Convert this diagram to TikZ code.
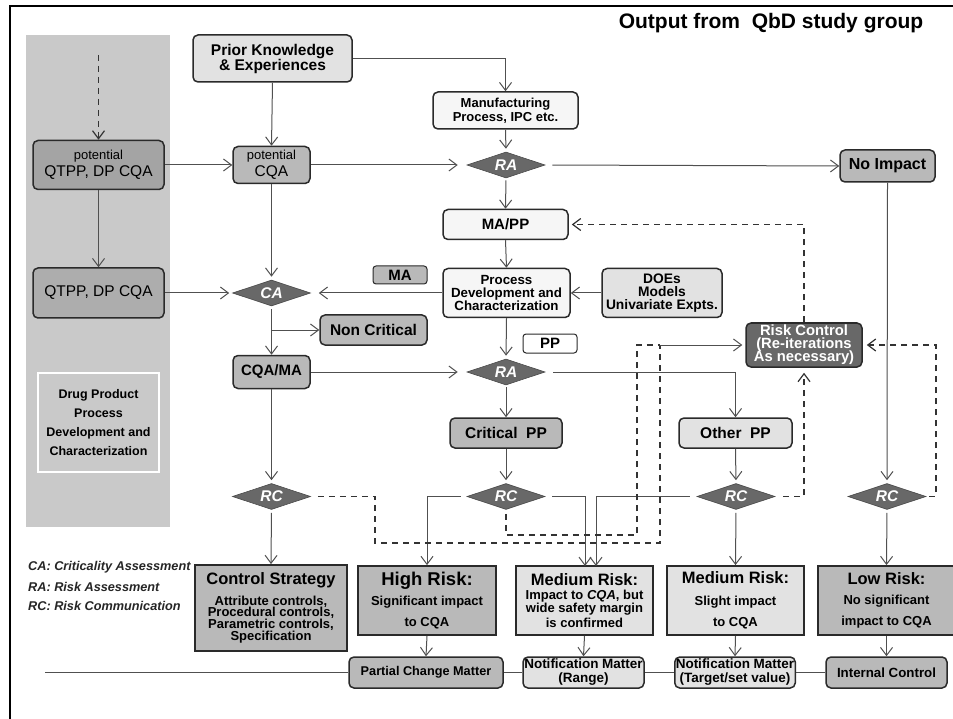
\documentclass[tikz,border=0pt]{standalone}
\usepackage{fontspec}
\setmainfont{Liberation Sans}
\usetikzlibrary{shapes.geometric,arrows.meta}
\definecolor{gdark}{HTML}{686868}
\definecolor{gmid}{HTML}{B9B9B9}
\definecolor{gmidd}{HTML}{A4A4A4}
\definecolor{glight}{HTML}{E2E2E2}
\definecolor{gwhite}{HTML}{F6F6F6}
\definecolor{gpanel}{HTML}{C9C9C9}
\definecolor{gline}{HTML}{505050}
\definecolor{gborder}{HTML}{2A2A2A}
\newcommand\fz[2]{\fontsize{#1}{#2}\selectfont}
\newcommand\tightls{\lineskiplimit=-10pt\relax}
\begin{document}
\begin{tikzpicture}[x=1pt,y=-1pt,
  box/.style={draw=gborder, line width=1.5pt, rounded corners=5pt, align=center, inner sep=1pt},
  midbox/.style={box, fill=gmid},
  lightbox/.style={box, fill=glight},
  whitebox/.style={box, fill=gwhite},
  sqbox/.style={box, rounded corners=0pt, line width=1.8pt},
  dia/.style={diamond, aspect=3, fill=gdark, draw=gdark!70!black, line width=0.6pt, minimum width=78pt, minimum height=26pt, inner sep=0pt, text=white, font=\bfseries\itshape\fz{15.5}{15}},
  conn/.style={draw=gline, line width=1pt, -{Straight Barb[length=8pt,width=12pt]}},
  plain/.style={draw=gline, line width=1pt},
  dsh/.style={draw=black!80, line width=1.2pt, dash pattern=on 6pt off 5pt},
  dsharr/.style={dsh, -{Straight Barb[length=8pt,width=12pt]}},
  legend/.style={anchor=west, inner sep=0pt, text=black!85, font=\bfseries\itshape\fz{12.7}{13}},
]
\useasboundingbox (0,0) rectangle (953,719);
\fill[white] (0,0) rectangle (953,719);
\draw[line width=2pt, black] (953,6) -- (10,6) -- (10,719);

% title
\node[font=\bfseries\fz{21}{21}] (title) at (771,23) {Output from\ \ QbD study group};

% left panel
\node[fill=gpanel, minimum width=144pt, minimum height=492pt, inner sep=0pt] (panel) at (98,281) {};
\node[draw=white, line width=2.2pt, fill=gpanel, minimum width=121pt, minimum height=99pt, align=center, inner sep=0pt, font=\bfseries\fz{12.5}{19}] (dp) at (98.5,422.5)
  {Drug Product\\Process\\Development and\\Characterization};
\node[box, fill=gmidd, minimum width=131pt, minimum height=49pt, font=\fz{15.5}{17}] (pq) at (98.5,165)
  {\fz{13}{13}potential\\QTPP, DP CQA};
\node[box, fill=gmidd!90!white, minimum width=131pt, minimum height=50pt, font=\fz{15.5}{17}] (qt) at (98.5,293)
  {QTPP, DP CQA};
\coordinate (ptop) at (98.5,55);

% upper flow
\node[lightbox, minimum width=159pt, minimum height=47pt, font=\bfseries\fz{15.5}{15}] (pk) at (272.5,58.5)
  {Prior Knowledge\\\& Experiences};
\node[whitebox, minimum width=145pt, minimum height=37pt, font=\bfseries\fz{13}{14}] (mf) at (505.5,110.5)
  {Manufacturing\\Process, IPC etc.};
\node[midbox, minimum width=77pt, minimum height=37pt, font=\fz{15.5}{17}] (pc) at (271.5,165)
  {\fz{13}{13}potential\\CQA};
\node[dia] (ra1) at (506,165) {RA};
\node[midbox, minimum width=95pt, minimum height=32pt, font=\bfseries\fz{16}{16}] (ni) at (887.5,166) {No Impact};
\node[whitebox, minimum width=125pt, minimum height=30pt, font=\bfseries\fz{15}{15}] (mp) at (505.5,224.5) {MA/PP};
\node[whitebox, minimum width=127pt, minimum height=49pt, font=\bfseries\fz{13.3}{12.7}\tightls] (pd) at (506.5,293)
  {Process\\Development and\\Characterization};
\node[lightbox, minimum width=120pt, minimum height=49pt, font=\bfseries\fz{13.8}{12.7}\tightls] (doe) at (662,293)
  {DOEs\\Models\\Univariate Expts.};
\node[midbox, line width=1pt, rounded corners=3pt, minimum width=54pt, minimum height=18pt, font=\bfseries\fz{15}{15}] (ma) at (400,275) {MA};
\node[dia] (ca) at (271.5,293) {CA};
\node[midbox, minimum width=107pt, minimum height=30pt, font=\bfseries\fz{15.5}{15}] (nc) at (373.5,330) {Non Critical};
\node[midbox, minimum width=77pt, minimum height=33pt, font=\bfseries\fz{15}{15}] (cm) at (271.5,372) {CQA/MA};
\node[box, fill=white, line width=1pt, rounded corners=3pt, minimum width=54pt, minimum height=19pt, font=\bfseries\fz{15}{15}] (pp) at (550,343.5) {PP};
\node[dia] (ra2) at (506,372) {RA};
\node[midbox, minimum width=112pt, minimum height=30pt, font=\bfseries\fz{15.5}{15}] (cp) at (506,433) {Critical\ \ PP};
\node[lightbox, minimum width=113pt, minimum height=30pt, font=\bfseries\fz{15.5}{15}] (op) at (735.5,433) {Other\ \ PP};
\node[box, fill=gdark, text=white, minimum width=116pt, minimum height=44pt, font=\bfseries\fz{14.8}{13}\tightls] (rk) at (804,345)
  {Risk Control\\(Re-iterations\\As necessary)};

% RC row
\node[dia] (rc1) at (271.5,496.5) {RC};
\node[dia] (rc2) at (506,496.5) {RC};
\node[dia] (rc3) at (736,496.5) {RC};
\node[dia] (rc4) at (887,496.5) {RC};

% risk boxes
\node[sqbox, fill=gmid, minimum width=152pt, minimum height=86pt, font=\bfseries\fz{13}{11.8}\tightls] (cs) at (271,608)
  {\fz{16.5}{16}Control Strategy\\[8.5pt]Attribute controls,\\Procedural controls,\\Parametric controls,\\Specification};
\node[sqbox, fill=gmid, minimum width=138pt, minimum height=69pt, font=\bfseries\fz{13}{13}] (hr) at (427,600.5)
  {\fz{18.5}{18}High Risk:\\[5.6pt]Significant impact\\[8pt]to CQA};
\node[sqbox, fill=glight, minimum width=137pt, minimum height=69pt, font=\bfseries\fz{13}{13}] (m1) at (584.5,600.5)
  {\fz{16.5}{16}Medium Risk:\\[1.6pt]Impact to \textit{CQA}, but\\wide safety margin\\[2pt]is confirmed};
\node[sqbox, fill=glight, minimum width=137pt, minimum height=69pt, font=\bfseries\fz{13}{13}] (m2) at (735.5,600.5)
  {\fz{16.5}{16}Medium Risk:\\[8.8pt]Slight impact\\[8pt]to CQA};
\node[sqbox, fill=gmid, minimum width=137pt, minimum height=69pt, font=\bfseries\fz{13}{13}] (lr) at (886.5,600.5)
  {\fz{16.5}{16}Low Risk:\\[6.8pt]No significant\\[8pt]impact to CQA};

% bottom row
\node[midbox, minimum width=154pt, minimum height=31pt, font=\bfseries\fz{12.7}{13}] (pcm) at (426,672.5) {Partial Change Matter};
\node[lightbox, minimum width=121pt, minimum height=31pt, font=\bfseries\fz{13.5}{14}] (nr) at (583.5,672.5) {Notification Matter\\(Range)};
\node[lightbox, minimum width=120pt, minimum height=31pt, font=\bfseries\fz{13.5}{14}] (nt) at (735,672.5) {Notification Matter\\(Target/set value)};
\node[midbox, minimum width=121pt, minimum height=31pt, font=\bfseries\fz{13.3}{13}] (ic) at (886.5,672.5) {Internal Control};

% legend
\node[legend] (lg1) at (28,567) {CA: Criticality Assessment};
\node[legend] (lg2) at (28,587) {RA: Risk Assessment};
\node[legend] (lg3) at (28,606) {RC: Risk Communication};

% helper coordinates
\coordinate (br) at (271.5,330);
\coordinate (m1a) at (585,566);
\coordinate (m1b) at (596,566);
\coordinate (bl) at (45,672.5);
\coordinate (a1) at (375,496.5);
\coordinate (a2) at (375,543);
\coordinate (a3) at (660,543);
\coordinate (a4) at (660,345);
\coordinate (b1) at (506,535);
\coordinate (b2) at (637,535);
\coordinate (b3) at (637,345);
\coordinate (d1) at (936,496.5);
\coordinate (d2) at (936,345);

% solid connectors
\draw[dsharr] (ptop) -- (pq.north);
\draw[conn] (pq.south) -- (qt.north);
\draw[conn] (pq.east) -- (pc.west);
\draw[conn, shorten >=3pt] (qt.east) -- (ca.west);
\draw[conn] (pk.south) -- (pc.north);
\draw[conn] (pk.east) -| (mf.north);
\draw[conn, shorten >=9pt] (pc.east) -- (ra1.west);
\draw[conn, shorten >=3pt] (mf.south) -- (ra1.north);
\draw[conn, shorten <=7pt] (ra1.east) -- (ni.west);
\draw[conn, shorten <=2pt] (ra1.south) -- (mp.north);
\draw[conn] (mp.south) -- (pd.north);
\draw[conn, shorten >=8pt] (pd.west) -- (ca.east);
\draw[conn] (doe.west) -- (pd.east);
\draw[conn, shorten >=3pt] (pc.south) -- (ca.north);
\draw[conn, shorten <=3pt] (ca.south) -- (cm.north);
\draw[conn] (br) -- (nc.west);
\draw[conn, shorten >=9pt] (cm.east) -- (ra2.west);
\draw[conn, shorten >=3pt] (pd.south) -- (ra2.north);
\draw[conn, shorten <=2pt] (ra2.south) -- (cp.north);
\draw[conn, shorten <=8pt] (ra2.east) -| (op.north);
\draw[conn, shorten >=3pt] (cp.south) -- (rc2.north);
\draw[conn, shorten >=3pt] (op.south) -- (rc3.north);
\draw[conn, shorten >=3pt] (ni.south) -- (rc4.north);
\draw[conn, shorten >=3pt] (cm.south) -- (rc1.north);
\draw[conn, shorten <=3pt] (rc1.south) -- (cs.north);
\draw[conn, shorten <=6pt] (rc2.west) -| (hr.north);
\draw[conn, shorten <=7pt] (rc2.east) -| (m1a);
\draw[conn, shorten <=7pt] (rc3.west) -| (m1b);
\draw[conn, shorten <=3pt] (rc3.south) -- (m2.north);
\draw[conn, shorten <=3pt] (rc4.south) -- (lr.north);
\draw[conn] (hr.south) -- (pcm.north);
\draw[conn] (m1.south) -- (nr.north);
\draw[conn] (m2.south) -- (nt.north);
\draw[conn] (lr.south) -- (ic.north);
\draw[plain] (bl) -- (pcm.west);
\draw[plain] (pcm.east) -- (nr.west);
\draw[plain] (nr.east) -- (nt.west);
\draw[plain] (nt.east) -- (ic.west);

% dashed risk-control loops
\draw[dsh, shorten <=7pt] (rc1.east) -- (a1) -- (a2) -- (a3) -- (a4);
\draw[dsh, shorten <=4pt] (rc2.south) -- (b1) -- (b2) -- (b3) -- (a4);
\draw[conn, shorten >=3pt] (a4) -- (rk.west);
\draw[dsharr, shorten <=8pt, shorten >=5pt] (rc3.east) -| (rk.south);
\draw[dsharr, shorten <=3pt, shorten >=4pt] (rc4.east) -- (d1) -- (d2) -- (rk.east);
\draw[dsharr, shorten >=3pt] (rk.north) |- (mp.east);
\end{tikzpicture}
\end{document}
